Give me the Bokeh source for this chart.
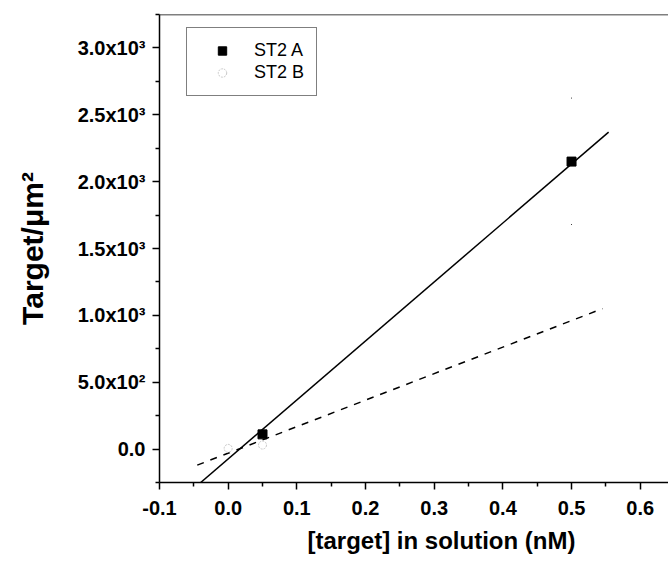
from bokeh.plotting import figure
from bokeh.models import (Range1d, FixedTicker, Legend, LegendItem, Span, Title,
                          CustomJSTickFormatter)
from bokeh.embed import file_html
from bokeh.resources import INLINE

# ---- data ----
conc_a = [0.05, 0.5]
target_a = [110, 2150]
err_a_x = [0.5, 0.5]
err_a_y = [1680, 2625]

conc_b = [0.0, 0.05]
target_b = [5, 30]

fit_a_x = [-0.040, 0.554]
fit_a_y = [-250, 2370]
fit_b_x = [-0.045, 0.545]
fit_b_y = [-120, 1050]

x_ticks = [-0.1, 0.0, 0.1, 0.2, 0.3, 0.4, 0.5, 0.6]
x_tick_labels = ["-0.1", "0.0", "0.1", "0.2", "0.3", "0.4", "0.5", "0.6"]
y_ticks = [0, 500, 1000, 1500, 2000, 2500, 3000]
y_tick_labels = ["0.0", "5.0x10\u00b2", "1.0x10\u00b3", "1.5x10\u00b3",
                 "2.0x10\u00b3", "2.5x10\u00b3", "3.0x10\u00b3"]

FONT = "Liberation Sans"

p = figure(width=668, height=562, output_backend="svg", toolbar_location=None,
           x_range=Range1d(-0.1, 0.6412), y_range=Range1d(-250, 3250),
           min_border_left=159, min_border_right=0, min_border_top=14,
           min_border_bottom=80)
p.outline_line_color = None
p.grid.visible = False
p.background_fill_color = "white"
p.border_fill_color = "white"

# top border line
p.add_layout(Span(location=3250, dimension="width", line_color="black", line_width=1.5))

fmt_code = """
const i = vals.findIndex(v => Math.abs(v - tick) < 1e-9);
return i >= 0 ? labs[i] : '';
"""
x_minor = [(a + b) / 2 for a, b in zip(x_ticks[:-1], x_ticks[1:])]
y_minor = [y_ticks[0] - 250] + [(a + b) / 2 for a, b in zip(y_ticks[:-1], y_ticks[1:])] + [y_ticks[-1] + 250]

xa = p.xaxis[0]
xa.ticker = FixedTicker(ticks=x_ticks, minor_ticks=x_minor)
xa.formatter = CustomJSTickFormatter(args=dict(vals=x_ticks, labs=x_tick_labels), code=fmt_code)
ya = p.yaxis[0]
ya.ticker = FixedTicker(ticks=y_ticks, minor_ticks=y_minor)
ya.formatter = CustomJSTickFormatter(args=dict(vals=y_ticks, labs=y_tick_labels), code=fmt_code)

for ax in (xa, ya):
    ax.axis_line_width = 1.5
    ax.axis_line_color = "black"
    ax.major_tick_line_width = 1.5
    ax.minor_tick_line_width = 1.5
    ax.major_tick_line_color = "black"
    ax.minor_tick_line_color = "black"
    ax.major_tick_out = 7
    ax.major_tick_in = 0
    ax.minor_tick_out = 4
    ax.minor_tick_in = 0
    ax.major_label_text_font = FONT
    ax.major_label_text_font_style = "bold"
    ax.major_label_text_font_size = "20px"
    ax.major_label_text_color = "black"

xa.major_label_standoff = 11
ya.major_label_standoff = 7
ya.axis_label = "Target/\u03bcm\u00b2"
ya.axis_label_text_font = FONT
ya.axis_label_text_font_style = "bold"
ya.axis_label_text_font_size = "30px"
ya.axis_label_text_color = "black"
ya.axis_label_standoff = 26

# x axis title (the original frame continues beyond the crop, so it is off-centre)
p.add_layout(Title(text="[target] in solution (nM)", align="left", offset=148,
                   text_font=FONT, text_font_style="bold", text_font_size="24px",
                   text_color="black", standoff=14), "below")

# fit lines
p.line(fit_a_x, fit_a_y, line_color="black", line_width=1.5)
p.line(fit_b_x, fit_b_y, line_color="black", line_width=1.5, line_dash="7 7")

# data
rb = p.scatter(conc_b, target_b, marker="circle", size=8, fill_color=None,
               line_color="#c8c8c8", line_width=1, line_dash="2 1")
ra = p.scatter(conc_a, target_a, marker="square", size=9, fill_color="black",
               line_color="black")
p.scatter(err_a_x, err_a_y, marker="dot", size=4, line_color="black",
          fill_color="black")

legend = Legend(items=[LegendItem(label="ST2 A", renderers=[ra]),
                       LegendItem(label="ST2 B", renderers=[rb])],
                location=(27, 386), border_line_color="black", border_line_width=1,
                background_fill_color="white", label_text_font=FONT,
                label_text_font_size="18px", label_text_color="black",
                glyph_width=46, glyph_height=21, spacing=1, padding=12,
                label_standoff=9, margin=0)
p.add_layout(legend)

open("out.html", "w").write(file_html(p, INLINE))
